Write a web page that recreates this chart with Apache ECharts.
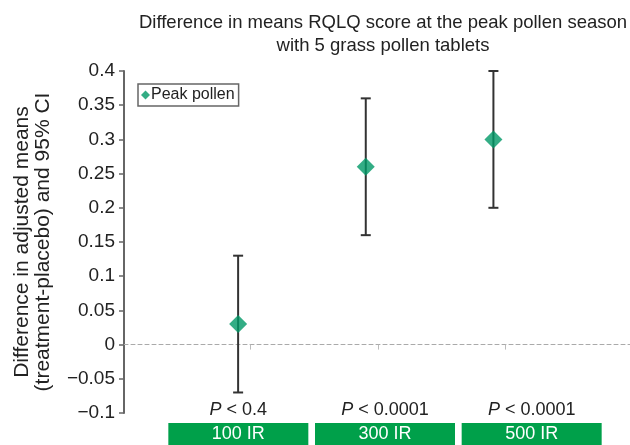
<!DOCTYPE html>
<html><head><meta charset="utf-8">
<script src="https://cdn.jsdelivr.net/npm/echarts@6/dist/echarts.min.js"></script>
<style>html,body{margin:0;padding:0;background:#fff}#c{width:630px;height:445px}</style>
</head><body><div id="c"></div>
<script>
const categories = ['100 IR', '300 IR', '500 IR'];
const means = [0.03, 0.26, 0.30];
const lower = [-0.07, 0.16, 0.20];
const upper = [0.13, 0.36, 0.40];
const pValues = ['< 0.4', '< 0.0001', '< 0.0001'];
const seriesName = 'Peak pollen';

const FONT = '"Liberation Sans", Arial, sans-serif';
const chart = echarts.init(document.getElementById('c'), null, {renderer: 'canvas'});

const pts = categories.map((c, i) => [i + 1, means[i]]);
const bars = categories.map((c, i) => [i + 1, lower[i], upper[i]]);

chart.setOption({
  animation: false,
  textStyle: {fontFamily: FONT},
  title: {
    text: 'Difference in means RQLQ score at the peak pollen season\nwith 5 grass pollen tablets',
    left: 378, top: 6, textAlign: 'center',
    textStyle: {fontSize: 18.5, fontWeight: 'normal', color: '#222', lineHeight: 23, fontFamily: FONT}
  },
  legend: {
    data: [{name: seriesName, icon: 'diamond'}],
    left: 138, top: 84, orient: 'vertical',
    itemWidth: 9, itemHeight: 9, itemGap: 0,
    borderColor: '#666', borderWidth: 1.5, borderRadius: 0,
    padding: [3, 4, 3, 3],
    textStyle: {fontSize: 16, color: '#222', padding: [0, 0, 0, -4], fontFamily: FONT}
  },
  grid: [
    {left: 124, right: 0, top: 71, height: 342},
    {left: 165, width: 440, top: 396, height: 1}
  ],
  xAxis: [
    {
      type: 'value', gridIndex: 0, min: 0.106, max: 4.07,
      axisLine: {onZero: true, lineStyle: {color: '#aaa', type: [4, 3], width: 1}},
      axisTick: {show: true, customValues: [1.094, 2.098, 3.09], length: 5, inside: false, lineStyle: {color: '#bbb'}},
      axisLabel: {show: false},
      splitLine: {show: false}
    },
    {
      type: 'category', gridIndex: 1, data: categories,
      axisLine: {show: false}, axisTick: {show: false}, splitLine: {show: false},
      axisLabel: {
        interval: 0, margin: 0,
        formatter: (v, i) => `{pi|P}{pt| ${pValues[i]}}\n{box|${v}}`,
        rich: {
          pi: {fontStyle: 'italic', fontSize: 18, color: '#222', lineHeight: 26, fontFamily: FONT},
          pt: {fontSize: 18, color: '#222', lineHeight: 26, fontFamily: FONT},
          box: {backgroundColor: '#00a04a', color: '#fff', width: 140, height: 22, lineHeight: 22,
                align: 'center', fontSize: 18, fontFamily: FONT}
        }
      }
    }
  ],
  yAxis: [
    {
      type: 'value', gridIndex: 0, min: -0.1, max: 0.4, interval: 0.05,
      name: 'Difference in adjusted means\n(treatment-placebo) and 95% CI',
      nameLocation: 'middle', nameGap: 70, nameRotate: 90,
      nameTextStyle: {fontSize: 21, color: '#222', lineHeight: 21, fontFamily: FONT},
      axisLine: {show: true, lineStyle: {color: '#666', width: 2}},
      axisTick: {show: true, length: 5, lineStyle: {color: '#666', width: 1.5}},
      axisLabel: {
        fontSize: 19, color: '#222', margin: 9, fontFamily: FONT,
        formatter: v => String(+v.toFixed(2)).replace('-', '\u2212')
      },
      splitLine: {show: false}
    },
    {type: 'value', gridIndex: 1, show: false}
  ],
  series: [
    {
      type: 'custom', xAxisIndex: 0, yAxisIndex: 0, silent: true,
      data: bars,
      renderItem: (params, api) => {
        const x = api.value(0);
        const lo = api.coord([x, api.value(1)]);
        const hi = api.coord([x, api.value(2)]);
        const cap = 5;
        const st = {stroke: '#333', lineWidth: 2};
        return {type: 'group', children: [
          {type: 'line', shape: {x1: lo[0], y1: lo[1], x2: hi[0], y2: hi[1]}, style: st},
          {type: 'line', shape: {x1: lo[0] - cap, y1: lo[1], x2: lo[0] + cap, y2: lo[1]}, style: st},
          {type: 'line', shape: {x1: hi[0] - cap, y1: hi[1], x2: hi[0] + cap, y2: hi[1]}, style: st}
        ]};
      },
      z: 2
    },
    {
      name: seriesName, type: 'scatter', xAxisIndex: 0, yAxisIndex: 0,
      data: pts, symbol: 'diamond', symbolSize: [18, 18],
      itemStyle: {color: '#009966'}, z: 3
    }
  ]
});
</script>
</body></html>
